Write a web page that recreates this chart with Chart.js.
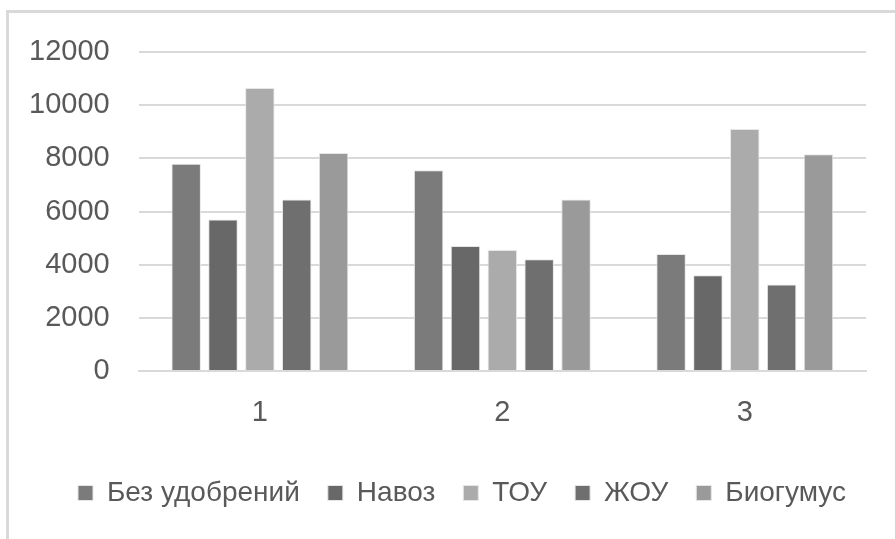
<!DOCTYPE html>
<html>
<head>
<meta charset="utf-8">
<script src="https://cdn.jsdelivr.net/npm/chart.js@4.4.1/dist/chart.umd.min.js"></script>
<style>
    body { margin: 0; background: #fff; }
    #frame {
        position: absolute; left: 6px; top: 10px;
        width: 1000px; height: 700px;
        border-top: 3px solid #d9d9d9;
        border-left: 3px solid #d9d9d9;
    }
    #chartContainer { position: absolute; left: 0; top: 0; width: 895px; height: 539px; }
</style>
</head>
<body>
<div id="frame"></div>
<div id="chartContainer"><canvas id="myChart" width="895" height="539"></canvas></div>
<script>
// Categories and series
const categories = ["1", "2", "3"];
const seriesNames = ["Без удобрений", "Навоз", "ТОУ", "ЖОУ", "Биогумус"];
const bezUdobreniy = [7800, 7550, 4400];
const navoz = [5700, 4700, 3600];
const tou = [10650, 4550, 9100];
const zhou = [6450, 4200, 3250];
const biogumus = [8200, 6450, 8150];
const yTicks = [0, 2000, 4000, 6000, 8000, 10000, 12000];

let seriesValues = [bezUdobreniy, navoz, tou, zhou, biogumus];
let colors = ["#7b7b7b", "#686868", "#ababab", "#6f6f6f", "#9a9a9a"];

let datasets = [];
for (let i = 0; i < seriesNames.length; i++) {
    datasets.push({
        label: seriesNames[i],
        data: seriesValues[i],
        backgroundColor: colors[i],
        borderColor: "#e6e6e6",
        borderWidth: 1,
        barPercentage: 0.8,
        categoryPercentage: 0.76
    });
}

const font = "'Liberation Sans', Arial, sans-serif";

// The legend sits a bit right of the canvas centre in the original
const legendShift = {
    id: 'legendShift',
    afterLayout: function(chart) {
        chart.legend.left += 29;
        chart.legend.right += 29;
    }
};

const config = {
    type: 'bar',
    data: { labels: categories, datasets: datasets },
    options: {
        responsive: false,
        animation: false,
        layout: { padding: { top: 52, left: 0, right: 29, bottom: 22 } },
        plugins: {
            tooltip: { enabled: false },
            legend: {
                position: 'bottom',
                labels: {
                    boxWidth: 15,
                    boxHeight: 15,
                    padding: 28,
                    color: "#595959",
                    font: { family: font, size: 28 }
                }
            }
        },
        scales: {
            x: {
                grid: { display: false, drawTicks: false },
                border: { display: true, color: "#d9d9d9", width: 2 },
                ticks: { color: "#595959", padding: 25, font: { family: font, size: 29 } },
                afterFit: function(axis) { axis.height = 80; }
            },
            y: {
                min: 0,
                max: 12000,
                afterBuildTicks: function(axis) {
                    axis.ticks = yTicks.map(function(v) { return { value: v }; });
                },
                grid: { color: "#d9d9d9", lineWidth: 2, drawTicks: false },
                border: { display: false },
                ticks: {
                    color: "#595959",
                    padding: 29,
                    font: { family: font, size: 29 },
                    callback: function(value) { return String(value); }
                }
            }
        }
    },
    plugins: [legendShift]
};

const myChart = new Chart(document.getElementById("myChart"), config);
</script>
</body>
</html>
